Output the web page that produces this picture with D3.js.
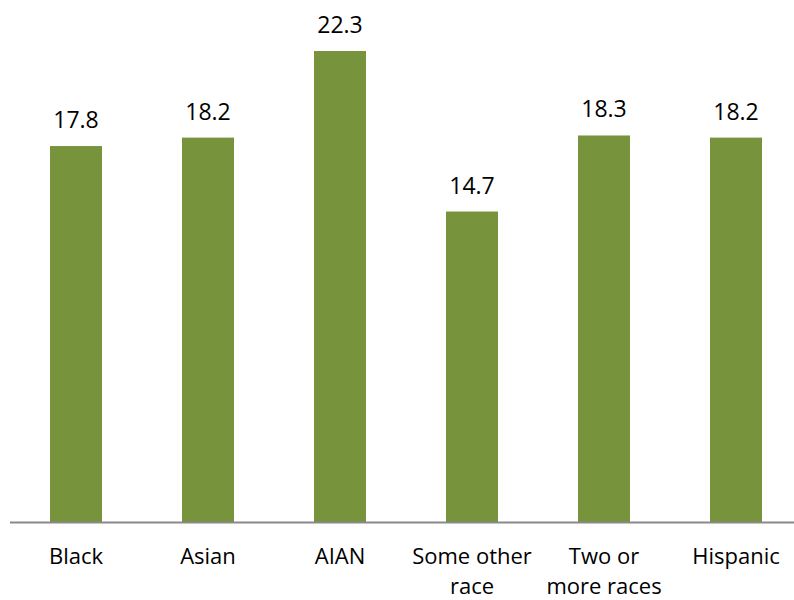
<!DOCTYPE html>
<html>
<head>
<meta charset="utf-8">
<script src="https://cdn.jsdelivr.net/npm/d3@7"></script>
<style>
  body { margin: 0; background: #fff; }
  text { font-family: "Open Sans", sans-serif; }
</style>
</head>
<body>
<svg id="chart" width="794" height="600"></svg>
<script>
// values
const categories = ['Black', 'Asian', 'AIAN', 'Some other race', 'Two or more races', 'Hispanic'];
const labelLines = [['Black'], ['Asian'], ['AIAN'], ['Some other', 'race'], ['Two or', 'more races'], ['Hispanic']];
const values = [17.8, 18.2, 22.3, 14.7, 18.3, 18.2];

const margin = { top: 51, right: 0, bottom: 78, left: 10 };
const width = 794 - margin.left - margin.right;
const height = 600 - margin.top - margin.bottom;

const svg = d3.select('#chart');
const chart = svg.append('g')
  .attr('transform', `translate(${margin.left}, ${margin.top})`);

const x = d3.scaleBand()
  .domain(categories)
  .range([0, 792])
  .paddingInner(0.606)
  .paddingOuter(0.303);

const y = d3.scaleLinear()
  .domain([0, 22.3])
  .range([height, 0]);

chart.selectAll('.bar')
  .data(values)
  .enter()
  .append('rect')
  .attr('class', 'bar')
  .attr('x', (d, i) => x(categories[i]))
  .attr('y', d => y(d))
  .attr('width', x.bandwidth())
  .attr('height', d => height - y(d))
  .attr('fill', '#77933c');

chart.selectAll('.val')
  .data(values)
  .enter()
  .append('text')
  .attr('class', 'val')
  .attr('x', (d, i) => x(categories[i]) + x.bandwidth() / 2)
  .attr('y', d => y(d) - 18)
  .attr('text-anchor', 'middle')
  .attr('font-size', 23)
  .attr('fill', '#000')
  .text(d => d.toFixed(1));

chart.append('line')
  .attr('x1', 0)
  .attr('x2', width)
  .attr('y1', height + 0.5)
  .attr('y2', height + 0.5)
  .attr('stroke', '#898989')
  .attr('stroke-width', 2);

const cat = chart.selectAll('.cat')
  .data(categories)
  .enter()
  .append('text')
  .attr('class', 'cat')
  .attr('text-anchor', 'middle')
  .attr('font-size', 22)
  .attr('fill', '#000')
  .attr('transform', d => `translate(${x(d) + x.bandwidth() / 2}, ${height + 42})`);

cat.selectAll('tspan')
  .data((d, i) => labelLines[i])
  .enter()
  .append('tspan')
  .attr('x', 0)
  .attr('dy', (d, i) => i === 0 ? 0 : 30)
  .text(d => d);
</script>
</body>
</html>
